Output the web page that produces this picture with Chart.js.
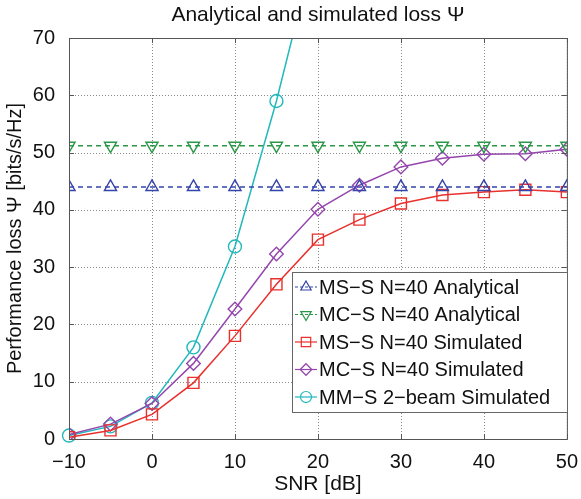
<!DOCTYPE html>
<html>
<head>
<meta charset="utf-8">
<script src="https://cdn.jsdelivr.net/npm/chart.js@4/dist/chart.umd.min.js"></script>
<style>
  html, body { margin: 0; padding: 0; background: #fff; }
  #wrap { width: 581px; height: 499px; }
</style>
</head>
<body>
<div id="wrap"><canvas id="grafico" width="581" height="499"></canvas></div>
<script>
// --- dados ---
const snr = [-10, -5, 0, 5, 10, 15, 20, 25, 30, 35, 40, 45, 50];
const msAnalitico = [44, 44, 44, 44, 44, 44, 44, 44, 44, 44, 44, 44, 44];
const mcAnalitico = [51.2, 51.2, 51.2, 51.2, 51.2, 51.2, 51.2, 51.2, 51.2, 51.2, 51.2, 51.2, 51.2];
const msSimulado = [0.3, 1.5, 4.3, 9.8, 18, 27, 34.8, 38.3, 41.1, 42.6, 43.1, 43.5, 43.1];
const mcSimulado = [0.8, 2.6, 6.2, 13.2, 22.7, 32.3, 40.1, 44.3, 47.5, 49.0, 49.7, 49.8, 50.6];
const snrMM = [-10, -5, 0, 5, 10, 15, 20];
const mmSimulado = [0.6, 2.2, 6.3, 16, 33.6, 59, 88];
const legendas = ['MS\u2212S N=40 Analytical', 'MC\u2212S N=40 Analytical', 'MS\u2212S N=40 Simulated', 'MC\u2212S N=40 Simulated', 'MM\u2212S 2\u2212beam Simulated'];
const yTicks = [0, 10, 20, 30, 40, 50, 60, 70];
const xTicks = [-10, 0, 10, 20, 30, 40, 50];

const FONTE = '"Liberation Sans", Arial, Helvetica, sans-serif';

function pares(xs, ys) {
    return xs.map((x, i) => ({ x: x, y: ys[i] }));
}

function serie(label, xs, ys, cor, estilo, raio, extra) {
    return Object.assign({
        label: label,
        data: pares(xs, ys),
        borderColor: cor,
        backgroundColor: 'rgba(0,0,0,0)',
        borderWidth: 1.5,
        pointStyle: estilo,
        pointRadius: raio,
        pointHoverRadius: raio,
        pointBorderColor: cor,
        pointBackgroundColor: 'rgba(0,0,0,0)',
        pointBorderWidth: 1.4,
        tension: 0,
        fill: false
    }, extra || {});
}

// grelha pontilhada + moldura da área do gráfico (com marcas para dentro)
const molduraPlugin = {
    id: 'moldura',
    beforeDatasetsDraw(chart) {
        const { ctx, chartArea: a, scales } = chart;
        ctx.save();
        ctx.strokeStyle = '#8a8a8a';
        ctx.lineWidth = 1;
        ctx.setLineDash([1, 2]);
        xTicks.forEach(v => {
            const px = Math.round(scales.x.getPixelForValue(v)) + 0.5;
            ctx.beginPath(); ctx.moveTo(px, a.top); ctx.lineTo(px, a.bottom); ctx.stroke();
        });
        yTicks.forEach(v => {
            const py = Math.round(scales.y.getPixelForValue(v)) + 0.5;
            ctx.beginPath(); ctx.moveTo(a.left, py); ctx.lineTo(a.right, py); ctx.stroke();
        });
        ctx.restore();
    },
    afterDatasetsDraw(chart) {
        const { ctx, chartArea: a, scales } = chart;
        const t = 5;
        ctx.save();
        ctx.strokeStyle = '#555';
        ctx.lineWidth = 1;
        ctx.beginPath();
        xTicks.forEach(v => {
            const px = Math.round(scales.x.getPixelForValue(v)) + 0.5;
            ctx.moveTo(px, a.bottom); ctx.lineTo(px, a.bottom - t);
            ctx.moveTo(px, a.top); ctx.lineTo(px, a.top + t);
        });
        yTicks.forEach(v => {
            const py = Math.round(scales.y.getPixelForValue(v)) + 0.5;
            ctx.moveTo(a.left, py); ctx.lineTo(a.left + t, py);
            ctx.moveTo(a.right, py); ctx.lineTo(a.right - t, py);
        });
        ctx.stroke();
        ctx.strokeRect(a.left + 0.5, a.top + 0.5, a.right - a.left, a.bottom - a.top);
        ctx.restore();
    }
};

// legenda estilo MATLAB dentro do gráfico
const legendaPlugin = {
    id: 'legendaInterna',
    afterDraw(chart) {
        const ctx = chart.ctx;
        const box = { x: 292, y: 272, w: 275, h: 140 };
        ctx.save();
        ctx.fillStyle = '#fff';
        ctx.fillRect(box.x, box.y, box.w, box.h);
        ctx.strokeStyle = '#666';
        ctx.lineWidth = 1;
        ctx.strokeRect(box.x + 0.5, box.y + 0.5, box.w, box.h);
        ctx.font = '20px ' + FONTE;
        ctx.textBaseline = 'middle';
        chart.data.datasets.forEach((ds, i) => {
            const yc = box.y + 15 + i * 27.5;
            ctx.strokeStyle = ds.borderColor;
            ctx.lineWidth = 1.2;
            ctx.setLineDash(ds.borderDash ? [3, 2] : []);
            ctx.beginPath();
            ctx.moveTo(box.x + 3, yc);
            ctx.lineTo(box.x + 25, yc);
            ctx.stroke();
            ctx.setLineDash([]);
            ctx.fillStyle = 'rgba(0,0,0,0)';
            ctx.lineWidth = 1.2;
            Chart.helpers.drawPoint(ctx, {
                pointStyle: ds.pointStyle,
                rotation: ds.pointRotation || 0,
                radius: ds.pointRadius * 0.85,
                borderWidth: 1.2
            }, box.x + 14, yc);
            ctx.fillStyle = '#111';
            ctx.fillText(ds.label, box.x + 27, yc + 1);
        });
        ctx.restore();
    }
};

const ctx = document.getElementById('grafico').getContext('2d');
new Chart(ctx, {
    type: 'line',
    data: {
        datasets: [
            serie(legendas[0], snr, msAnalitico, '#3344aa', 'triangle', 7, { borderDash: [5, 4] }),
            serie(legendas[1], snr, mcAnalitico, '#2a9848', 'triangle', 7, { borderDash: [5, 4], pointRotation: 180 }),
            serie(legendas[2], snr, msSimulado, '#e8302c', 'rect', 7.8),
            serie(legendas[3], snr, mcSimulado, '#9446ad', 'rectRot', 6.8),
            serie(legendas[4], snrMM, mmSimulado, '#22b8bc', 'circle', 6.5, { clip: { left: false, top: 0, right: false, bottom: false } })
        ]
    },
    options: {
        responsive: false,
        animation: false,
        layout: { padding: { left: 0, right: 12, top: 0, bottom: 0 } },
        plugins: {
            legend: { display: false },
            tooltip: { enabled: false },
            title: {
                display: true,
                text: 'Analytical and simulated loss \u03A8',
                fullSize: false,
                color: '#111',
                font: { family: FONTE, size: 21, weight: 'normal' },
                padding: { top: 3, bottom: 9.8 }
            }
        },
        scales: {
            x: {
                type: 'linear',
                min: -10,
                max: 50,
                afterFit(scale) { scale.height = 60; },
                afterBuildTicks(scale) { scale.ticks = xTicks.map(v => ({ value: v })); },
                ticks: {
                    color: '#111',
                    font: { family: FONTE, size: 20 },
                    padding: 3,
                    maxRotation: 0,
                    callback: v => String(v).replace('-', '\u2212')
                },
                grid: { display: false },
                border: { display: false },
                title: {
                    display: true,
                    text: 'SNR [dB]',
                    color: '#111',
                    font: { family: FONTE, size: 21 },
                    padding: { top: 0, bottom: 2 }
                }
            },
            y: {
                min: 0,
                max: 70,
                afterFit(scale) { scale.width = 69; },
                afterBuildTicks(scale) { scale.ticks = yTicks.map(v => ({ value: v })); },
                ticks: {
                    color: '#111',
                    font: { family: FONTE, size: 20 },
                    padding: 6
                },
                grid: { display: false },
                border: { display: false },
                title: {
                    display: true,
                    text: 'Performance loss \u03A8 [bits/s/Hz]',
                    color: '#111',
                    font: { family: FONTE, size: 20 },
                    padding: { top: 3, bottom: 0 }
                }
            }
        }
    },
    plugins: [molduraPlugin, legendaPlugin]
});
</script>
</body>
</html>
